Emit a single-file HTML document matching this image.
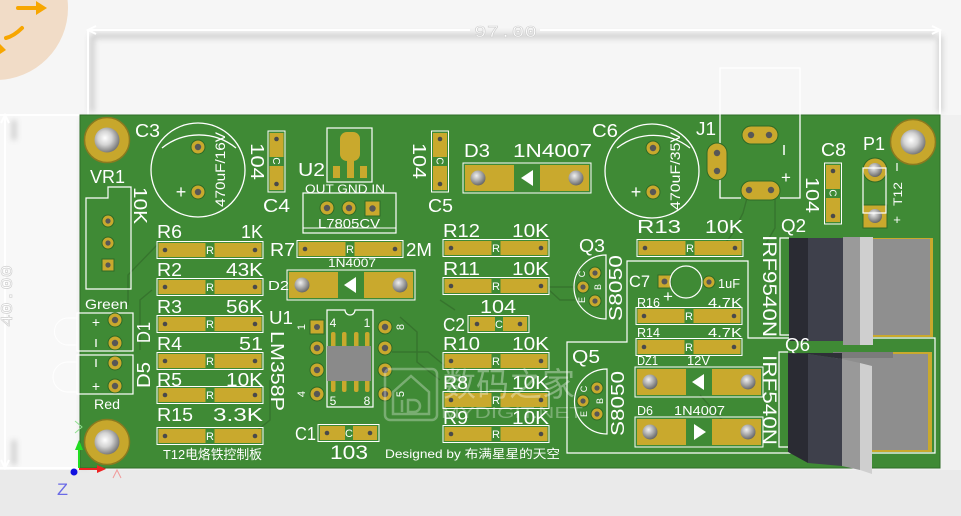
<!DOCTYPE html>
<html><head><meta charset="utf-8">
<style>
html,body{margin:0;padding:0;background:#f1f1f1;}
svg{display:block}
text{font-family:"Liberation Sans","Noto Sans CJK SC",sans-serif;fill:#fff}
.m{font-family:"Liberation Mono","Noto Sans CJK SC",monospace}
</style></head><body>
<svg width="961" height="516" viewBox="0 0 961 516" xmlns="http://www.w3.org/2000/svg">
<defs>
 <filter id="bl" x="-20%" y="-20%" width="140%" height="140%"><feGaussianBlur stdDeviation="3"/></filter>
 <radialGradient id="hole" cx="0.42" cy="0.42" r="0.62"><stop offset="0" stop-color="#ffffff"/><stop offset="0.45" stop-color="#d4d4d4"/><stop offset="1" stop-color="#707070"/></radialGradient>
 <radialGradient id="ball" cx="0.4" cy="0.35" r="0.7"><stop offset="0" stop-color="#f0f0f0"/><stop offset="0.5" stop-color="#a8a8a8"/><stop offset="1" stop-color="#5e5e5e"/></radialGradient>
 <g id="res">
  <rect x="0" y="-8.5" width="106" height="17" fill="none" stroke="#fff" stroke-width="1"/>
  <rect x="1.5" y="-7" width="47" height="14" fill="#c9a92d"/>
  <rect x="57.5" y="-7" width="47" height="14" fill="#c9a92d"/>
  <circle cx="8" cy="0" r="2.3" fill="#4a4a4a"/><circle cx="98" cy="0" r="2.3" fill="#4a4a4a"/>
 </g>
 <g id="capH">
  <rect x="0" y="-8.5" width="61" height="17" fill="none" stroke="#fff" stroke-width="1"/>
  <rect x="2" y="-7" width="25" height="14" fill="#c9a92d"/>
  <rect x="35" y="-7" width="24" height="14" fill="#c9a92d"/>
  <circle cx="9" cy="0" r="2.3" fill="#4a4a4a"/><circle cx="52" cy="0" r="2.3" fill="#4a4a4a"/>
 </g>
 <g id="capV">
  <rect x="-8.5" y="0" width="17" height="61" fill="none" stroke="#fff" stroke-width="1"/>
  <rect x="-7" y="2" width="14" height="24" fill="#c9a92d"/>
  <rect x="-7" y="35" width="14" height="24" fill="#c9a92d"/>
  <circle cx="0" cy="8" r="2.3" fill="#4a4a4a"/><circle cx="0" cy="53" r="2.3" fill="#4a4a4a"/>
 </g>
 <g id="dio">
  <rect x="0" y="-15" width="128" height="30" fill="none" stroke="#fff" stroke-width="1"/>
  <rect x="2" y="-13" width="49" height="26" fill="#c9a92d"/>
  <rect x="77" y="-13" width="49" height="26" fill="#c9a92d"/>
  <circle cx="15" cy="0" r="7.5" fill="url(#ball)"/><circle cx="113" cy="0" r="7.5" fill="url(#ball)"/>
 </g>
 <g id="pad"><circle r="7" fill="#c9a92d" stroke="#2e6a26" stroke-width="1"/><circle r="3.2" fill="#575757"/></g>
 <g id="spad"><circle r="6" fill="#c9a92d" stroke="#2e6a26" stroke-width="1"/><circle r="2.6" fill="#575757"/></g>
</defs>

<!-- background -->
<rect width="961" height="516" fill="#f0f0f0"/>
<rect x="0" y="0" width="961" height="115" fill="#f6f6f6"/>
<rect x="0" y="470" width="961" height="46" fill="#eaeaea"/>
<rect x="0" y="115" width="80" height="355" fill="#f8f8f8"/>
<g filter="url(#bl)" opacity="0.45" stroke="#9a9a9a" stroke-width="5" fill="none">
 <path d="M92,36 H936"/>
 <path d="M92,36 V112"/>
 <path d="M940,36 V112"/>
 <path d="M14,120 V140"/>
 <path d="M14,440 V465"/>
 <path d="M84,118 V468"/>
</g>
<!-- logo -->
<circle cx="-4" cy="8" r="72" fill="#f1dcc7"/>
<g stroke="#f7a600" stroke-width="4" fill="none" stroke-linecap="round">
 <path d="M18,8 H38"/>
 <path d="M22,28 Q14,36 6,38"/>
</g>
<polygon points="36,1 47,8 36,15" fill="#f7a600"/>
<polygon points="0,44 6,50 0,54" fill="#f7a600"/>

<!-- dimension lines -->
<g stroke="#ffffff" stroke-width="2" fill="none">
 <path d="M88,30 H470"/><path d="M540,30 H940"/>
 <path d="M88,30 V115"/><path d="M940,30 V115"/>
 <path d="M96,26 L88,30 L96,34"/><path d="M932,26 L940,30 L932,34"/>
 <path d="M5,115 V468"/><path d="M0,115 H80"/><path d="M0,468 H80"/>
 <path d="M1,123 L5,115 L9,123"/><path d="M1,460 L5,468 L9,460"/>
</g>
<text class="m" x="474" y="37" font-size="17" textLength="63" lengthAdjust="spacingAndGlyphs" stroke="#cfcfcf" stroke-width="0.6">97.00</text>
<text class="m" transform="translate(12,327) rotate(-90)" font-size="17" textLength="62" lengthAdjust="spacingAndGlyphs" stroke="#cfcfcf" stroke-width="0.6">40.00</text>

<!-- board -->
<rect x="80" y="115" width="860" height="353" fill="#3f8a35" stroke="#2f6d28" stroke-width="1"/>

<!-- traces -->
<g stroke="#356f2c" stroke-width="1.4" fill="none" opacity="0.8">
 <path d="M157,245 L128,275 V305"/>
 <path d="M152,290 L140,300 V350"/>
 <path d="M400,317 L417,332 V362 L440,380"/>
 <path d="M392,352 L428,352 L450,370"/>
 <path d="M549,287 H575"/>
 <path d="M549,290 L560,300 H575"/>
 <path d="M747,198 L743,213 L733,233 L720,250"/>
 <path d="M775,198 V228 L765,245"/>
 <path d="M700,395 L740,440"/>
 <path d="M440,300 L455,310"/>
 <path d="M245,440 L270,420 V380"/>
</g>

<!-- mounting holes -->
<circle cx="107" cy="140" r="22.5" fill="#c7a72c" stroke="#8a7a1f" stroke-width="1.5"/><circle cx="107" cy="140" r="12.5" fill="url(#hole)"/>
<circle cx="107" cy="442" r="22.5" fill="#c7a72c" stroke="#8a7a1f" stroke-width="1.5"/><circle cx="107" cy="442" r="12.5" fill="url(#hole)"/>
<circle cx="913" cy="142" r="22.5" fill="#c7a72c" stroke="#8a7a1f" stroke-width="1.5"/><circle cx="913" cy="142" r="12.5" fill="url(#hole)"/>

<!-- C3 -->
<text x="135" y="137" font-size="18" textLength="25" lengthAdjust="spacingAndGlyphs">C3</text>
<circle cx="198" cy="170" r="47" fill="none" stroke="#fff" stroke-width="1.3"/>
<path d="M162,148 A59,59 0 0 1 236,148" fill="none" stroke="#fff" stroke-width="1.3"/>
<use href="#pad" x="198" y="147"/><use href="#pad" x="198" y="192"/>
<text x="181" y="198" font-size="18" text-anchor="middle">+</text>
<text transform="translate(225,207) rotate(-90)" font-size="14" textLength="75" lengthAdjust="spacingAndGlyphs">470uF/16V</text>

<!-- VR1 -->
<text x="90" y="183" font-size="18" textLength="35" lengthAdjust="spacingAndGlyphs">VR1</text>
<text transform="translate(134,187) rotate(90)" font-size="18" textLength="37" lengthAdjust="spacingAndGlyphs">10K</text>
<path d="M86,198 H108 V187 H131 V289 H86 Z" fill="none" stroke="#fff" stroke-width="1.2"/>
<use href="#spad" x="108" y="221"/><use href="#spad" x="108" y="243"/>
<rect x="102" y="259" width="12" height="12" fill="#c9a92d" stroke="#2e6a26"/><circle cx="108" cy="265" r="2.6" fill="#575757"/>

<!-- C4 -->
<use href="#capV" x="276.5" y="131"/>
<text transform="translate(276.5,161) rotate(90)" font-size="10" text-anchor="middle" dy="3.5">C</text>
<text transform="translate(251,143) rotate(90)" font-size="18" textLength="37" lengthAdjust="spacingAndGlyphs">104</text>
<text x="263" y="212" font-size="18" textLength="27" lengthAdjust="spacingAndGlyphs">C4</text>

<!-- U2 -->
<text x="298" y="176" font-size="18" textLength="27" lengthAdjust="spacingAndGlyphs">U2</text>
<rect x="327" y="128" width="45" height="54" fill="none" stroke="#fff" stroke-width="1.2"/>
<rect x="340" y="132" width="20" height="29" rx="7" fill="#c9a92d"/>
<rect x="347" y="150" width="7" height="28" fill="#c9a92d"/>
<rect x="333" y="166" width="7" height="12" fill="#c9a92d"/>
<rect x="360" y="166" width="7" height="12" fill="#c9a92d"/>
<text x="305" y="193" font-size="12" textLength="80" lengthAdjust="spacingAndGlyphs">OUT GND IN</text>
<rect x="303" y="193" width="93" height="40" fill="none" stroke="#fff" stroke-width="1.2"/>
<path d="M303,228 H396" stroke="#fff" stroke-width="1"/>
<use href="#pad" x="327" y="208"/><use href="#pad" x="349" y="208"/>
<rect x="365" y="201" width="15" height="15" fill="#c9a92d" stroke="#2e6a26"/><circle cx="372.5" cy="208.5" r="3.2" fill="#575757"/>
<text x="318" y="228" font-size="13" textLength="62" lengthAdjust="spacingAndGlyphs">L7805CV</text>

<!-- C5 -->
<use href="#capV" x="440" y="131"/>
<text transform="translate(440,161) rotate(90)" font-size="10" text-anchor="middle" dy="3.5">C</text>
<text transform="translate(413,143) rotate(90)" font-size="18" textLength="36" lengthAdjust="spacingAndGlyphs">104</text>
<text x="428" y="212" font-size="18" textLength="25" lengthAdjust="spacingAndGlyphs">C5</text>

<!-- D3 -->
<text x="464" y="157" font-size="18" textLength="26" lengthAdjust="spacingAndGlyphs">D3</text>
<text x="513" y="157" font-size="18" textLength="79" lengthAdjust="spacingAndGlyphs">1N4007</text>
<use href="#dio" x="463" y="178"/>
<polygon points="521,178 533,170 533,186" fill="#fff"/>

<!-- C6 -->
<text x="592" y="137" font-size="18" textLength="26" lengthAdjust="spacingAndGlyphs">C6</text>
<circle cx="652" cy="171" r="47" fill="none" stroke="#fff" stroke-width="1.3"/>
<path d="M617,148 A59,59 0 0 1 690,148" fill="none" stroke="#fff" stroke-width="1.3"/>
<use href="#pad" x="653" y="148"/><use href="#pad" x="653" y="192"/>
<text x="636" y="198" font-size="18" text-anchor="middle">+</text>
<text transform="translate(680,210) rotate(-90)" font-size="14" textLength="78" lengthAdjust="spacingAndGlyphs">470uF/35V</text>

<!-- J1 -->
<text x="696" y="135" font-size="18" textLength="20" lengthAdjust="spacingAndGlyphs">J1</text>
<path d="M741,198 H720 V68 H800 V198 H780" fill="none" stroke="#fff" stroke-width="1.3"/>
<rect x="707" y="143" width="20" height="37" rx="10" fill="#c9a92d" stroke="#2e6a26"/>
<circle cx="717" cy="153" r="3.2" fill="#575757"/><circle cx="717" cy="171" r="3.2" fill="#575757"/>
<rect x="742" y="126" width="36" height="18" rx="9" fill="#c9a92d" stroke="#2e6a26"/>
<circle cx="751" cy="135" r="3.2" fill="#575757"/><circle cx="769" cy="135" r="3.2" fill="#575757"/>
<rect x="741" y="181" width="39" height="19" rx="9.5" fill="#c9a92d" stroke="#2e6a26"/>
<circle cx="749" cy="190" r="3.2" fill="#575757"/><circle cx="771" cy="190" r="3.2" fill="#575757"/>
<path d="M784,145 V155" stroke="#fff" stroke-width="1.5"/>
<text x="786" y="183" font-size="17" text-anchor="middle">+</text>

<!-- C8 -->
<text x="821" y="156" font-size="18" textLength="25" lengthAdjust="spacingAndGlyphs">C8</text>
<use href="#capV" x="833" y="163"/>
<text transform="translate(833,193) rotate(90)" font-size="10" text-anchor="middle" dy="3.5">C</text>
<text transform="translate(806,177) rotate(90)" font-size="18" textLength="36" lengthAdjust="spacingAndGlyphs">104</text>

<!-- P1 -->
<text x="863" y="150" font-size="18" textLength="22" lengthAdjust="spacingAndGlyphs">P1</text>
<circle cx="875" cy="170" r="12" fill="#c9a92d" stroke="#2e6a26"/><circle cx="875" cy="170" r="7" fill="url(#ball)"/>
<rect x="863" y="205" width="24" height="23" fill="#c9a92d" stroke="#2e6a26"/><circle cx="875" cy="216" r="7" fill="url(#ball)"/>
<rect x="863" y="168" width="23" height="45" fill="none" stroke="#fff" stroke-width="1.2"/>
<path d="M897,163 V171" stroke="#fff" stroke-width="1.2"/>
<text transform="translate(902,206) rotate(-90)" font-size="12" textLength="24" lengthAdjust="spacingAndGlyphs">T12</text>
<text x="897" y="224" font-size="13" text-anchor="middle">+</text>

<!-- left resistors -->
<use href="#res" x="157" y="250"/><text x="210" y="254" font-size="11" text-anchor="middle">R</text>
<text x="157" y="238" font-size="18" textLength="25" lengthAdjust="spacingAndGlyphs">R6</text>
<text x="241" y="238" font-size="18" textLength="22" lengthAdjust="spacingAndGlyphs">1K</text>
<use href="#res" x="157" y="287"/><text x="210" y="291" font-size="11" text-anchor="middle">R</text>
<text x="157" y="276" font-size="18" textLength="25" lengthAdjust="spacingAndGlyphs">R2</text>
<text x="226" y="276" font-size="18" textLength="37" lengthAdjust="spacingAndGlyphs">43K</text>
<use href="#res" x="157" y="324"/><text x="210" y="328" font-size="11" text-anchor="middle">R</text>
<text x="157" y="313" font-size="18" textLength="25" lengthAdjust="spacingAndGlyphs">R3</text>
<text x="226" y="313" font-size="18" textLength="37" lengthAdjust="spacingAndGlyphs">56K</text>
<use href="#res" x="157" y="361"/><text x="210" y="365" font-size="11" text-anchor="middle">R</text>
<text x="157" y="350" font-size="18" textLength="25" lengthAdjust="spacingAndGlyphs">R4</text>
<text x="239" y="350" font-size="18" textLength="24" lengthAdjust="spacingAndGlyphs">51</text>
<use href="#res" x="157" y="395"/><text x="210" y="399" font-size="11" text-anchor="middle">R</text>
<text x="157" y="386" font-size="18" textLength="25" lengthAdjust="spacingAndGlyphs">R5</text>
<text x="226" y="386" font-size="18" textLength="37" lengthAdjust="spacingAndGlyphs">10K</text>
<use href="#res" x="157" y="436"/><text x="210" y="440" font-size="11" text-anchor="middle">R</text>
<text x="157" y="421" font-size="18" textLength="36" lengthAdjust="spacingAndGlyphs">R15</text>
<text x="213" y="421" font-size="18" textLength="50" lengthAdjust="spacingAndGlyphs">3.3K</text>
<text x="163" y="459" font-size="13" textLength="99" lengthAdjust="spacingAndGlyphs">T12电烙铁控制板</text>

<!-- LEDs -->
<text x="85" y="309" font-size="14" textLength="43" lengthAdjust="spacingAndGlyphs">Green</text>
<path d="M77,318 H68 A13.5,13.5 0 0 0 68,345 H77" fill="none" stroke="#fff" stroke-width="1"/>
<path d="M77,362 H68 A15,15 0 0 0 68,392 H77" fill="none" stroke="#fff" stroke-width="1"/>
<rect x="77" y="313" width="56" height="38" fill="none" stroke="#fff" stroke-width="1.2"/>
<rect x="77" y="355" width="56" height="39" fill="none" stroke="#fff" stroke-width="1.2"/>
<text x="96" y="327" font-size="14" text-anchor="middle">+</text>
<path d="M96,339 V347" stroke="#fff" stroke-width="1.3"/>
<path d="M96,359 V367" stroke="#fff" stroke-width="1.3"/>
<text x="96" y="391" font-size="14" text-anchor="middle">+</text>
<use href="#pad" x="115" y="320"/><use href="#pad" x="115" y="343"/>
<use href="#pad" x="115" y="363"/><use href="#pad" x="115" y="386"/>
<text x="94" y="409" font-size="14" textLength="26" lengthAdjust="spacingAndGlyphs">Red</text>
<text transform="translate(150,343) rotate(-90)" font-size="18" textLength="21" lengthAdjust="spacingAndGlyphs">D1</text>
<text transform="translate(150,388) rotate(-90)" font-size="18" textLength="26" lengthAdjust="spacingAndGlyphs">D5</text>

<!-- R7 / D2 -->
<text x="270" y="256" font-size="18" textLength="25" lengthAdjust="spacingAndGlyphs">R7</text>
<use href="#res" x="297" y="249"/><text x="350" y="253" font-size="11" text-anchor="middle">R</text>
<text x="406" y="256" font-size="18" textLength="26" lengthAdjust="spacingAndGlyphs">2M</text>
<text x="328" y="267" font-size="12" textLength="48" lengthAdjust="spacingAndGlyphs">1N4007</text>
<text x="268" y="290" font-size="13" textLength="21" lengthAdjust="spacingAndGlyphs">D2</text>
<use href="#dio" x="287" y="285"/>
<polygon points="344,285 356,277 356,293" fill="#fff"/>

<!-- U1 -->
<text x="269" y="324" font-size="18" textLength="24" lengthAdjust="spacingAndGlyphs">U1</text>
<text transform="translate(271,331) rotate(90)" font-size="18" textLength="80" lengthAdjust="spacingAndGlyphs">LM358P</text>
<path d="M327,310 H345 A5,5 0 0 0 355,310 H373 V407 H327 Z" fill="none" stroke="#fff" stroke-width="1.2"/>
<g fill="#c9a92d">
 <rect x="331" y="332" width="4.5" height="60" rx="2"/>
 <rect x="342" y="332" width="4.5" height="60" rx="2"/>
 <rect x="354" y="332" width="4.5" height="60" rx="2"/>
 <rect x="365" y="332" width="4.5" height="60" rx="2"/>
</g>
<rect x="327" y="346" width="44" height="35" fill="#8a8a8a"/>
<text x="333" y="327" font-size="12" text-anchor="middle">4</text>
<text x="367" y="327" font-size="12" text-anchor="middle">1</text>
<text x="333" y="405" font-size="12" text-anchor="middle">5</text>
<text x="367" y="405" font-size="12" text-anchor="middle">8</text>
<rect x="310" y="320" width="14" height="14" fill="#c9a92d" stroke="#2e6a26"/><circle cx="317" cy="327" r="3" fill="#575757"/>
<use href="#pad" x="317" y="348"/><use href="#pad" x="317" y="370"/><use href="#pad" x="317" y="394"/>
<use href="#pad" x="385" y="327"/><use href="#pad" x="385" y="348"/><use href="#pad" x="385" y="370"/><use href="#pad" x="385" y="394"/>
<text transform="translate(305,327) rotate(-90)" font-size="11" text-anchor="middle">1</text>
<text transform="translate(305,394) rotate(-90)" font-size="11" text-anchor="middle">4</text>
<text transform="translate(404,327) rotate(-90)" font-size="11" text-anchor="middle">8</text>
<text transform="translate(404,394) rotate(-90)" font-size="11" text-anchor="middle">5</text>

<!-- C1 -->
<text x="295" y="440" font-size="18" textLength="21" lengthAdjust="spacingAndGlyphs">C1</text>
<use href="#capH" x="318" y="433"/><text x="349" y="437" font-size="11" text-anchor="middle">C</text>
<text x="330" y="459" font-size="19" textLength="38" lengthAdjust="spacingAndGlyphs">103</text>
<text x="385" y="458" font-size="12" textLength="175" lengthAdjust="spacingAndGlyphs">Designed by 布满星星的天空</text>

<!-- middle column -->
<use href="#res" x="443" y="248"/><text x="496" y="252" font-size="11" text-anchor="middle">R</text>
<text x="443" y="237" font-size="18" textLength="37" lengthAdjust="spacingAndGlyphs">R12</text>
<text x="512" y="237" font-size="18" textLength="37" lengthAdjust="spacingAndGlyphs">10K</text>
<use href="#res" x="443" y="286"/><text x="496" y="290" font-size="11" text-anchor="middle">R</text>
<text x="443" y="275" font-size="18" textLength="37" lengthAdjust="spacingAndGlyphs">R11</text>
<text x="512" y="275" font-size="18" textLength="37" lengthAdjust="spacingAndGlyphs">10K</text>
<text x="480" y="313" font-size="18" textLength="36" lengthAdjust="spacingAndGlyphs">104</text>
<text x="443" y="331" font-size="18" textLength="22" lengthAdjust="spacingAndGlyphs">C2</text>
<use href="#capH" x="468" y="324"/><text x="499" y="328" font-size="11" text-anchor="middle">C</text>
<use href="#res" x="443" y="361"/><text x="496" y="365" font-size="11" text-anchor="middle">R</text>
<text x="443" y="350" font-size="18" textLength="37" lengthAdjust="spacingAndGlyphs">R10</text>
<text x="512" y="350" font-size="18" textLength="37" lengthAdjust="spacingAndGlyphs">10K</text>
<use href="#res" x="443" y="400"/><text x="496" y="404" font-size="11" text-anchor="middle">R</text>
<text x="443" y="389" font-size="18" textLength="25" lengthAdjust="spacingAndGlyphs">R8</text>
<text x="512" y="389" font-size="18" textLength="37" lengthAdjust="spacingAndGlyphs">10K</text>
<use href="#res" x="443" y="434"/><text x="496" y="438" font-size="11" text-anchor="middle">R</text>
<text x="443" y="424" font-size="18" textLength="25" lengthAdjust="spacingAndGlyphs">R9</text>
<text x="512" y="424" font-size="18" textLength="37" lengthAdjust="spacingAndGlyphs">10K</text>

<!-- Q3 -->
<text x="579" y="252" font-size="18" textLength="26" lengthAdjust="spacingAndGlyphs">Q3</text>
<path d="M606,255 A32,32 0 0 0 606,319 Z" fill="none" stroke="#fff" stroke-width="1.2"/>
<use href="#spad" x="595" y="273"/><use href="#spad" x="583" y="287"/><use href="#spad" x="595" y="301"/>
<text transform="translate(585,274) rotate(-90)" font-size="9" text-anchor="middle">C</text>
<text transform="translate(601,287) rotate(-90)" font-size="9" text-anchor="middle">B</text>
<text transform="translate(585,300) rotate(-90)" font-size="9" text-anchor="middle">E</text>
<text transform="translate(622,321) rotate(-90)" font-size="18" textLength="66" lengthAdjust="spacingAndGlyphs">S8050</text>

<!-- R13 -->
<text x="637" y="233" font-size="18" textLength="44" lengthAdjust="spacingAndGlyphs">R13</text>
<text x="705" y="233" font-size="18" textLength="38" lengthAdjust="spacingAndGlyphs">10K</text>
<use href="#res" x="637" y="248"/><text x="690" y="252" font-size="11" text-anchor="middle">R</text>

<!-- silk boxes -->
<g fill="none" stroke="#fff" stroke-width="1.2">
 <path d="M567,342 H627 V261 H748 V338 H935 V453 H567 Z"/>
 <path d="M789,238 H780 V335 H789"/>
 <path d="M788,352 H779 V447 H788"/>
</g>

<!-- C7 -->
<text x="629" y="287" font-size="17" textLength="21" lengthAdjust="spacingAndGlyphs">C7</text>
<rect x="658" y="275" width="13" height="13" fill="#c9a92d" stroke="#2e6a26"/><circle cx="664.5" cy="281.5" r="3" fill="#575757"/>
<circle cx="686" cy="282" r="16" fill="none" stroke="#fff" stroke-width="1.2"/>
<use href="#spad" x="709" y="282"/>
<text x="718" y="288" font-size="13" textLength="22" lengthAdjust="spacingAndGlyphs">1uF</text>
<text x="668" y="302" font-size="17" text-anchor="middle">+</text>

<!-- R16 R14 -->
<text x="637" y="307" font-size="13" textLength="23" lengthAdjust="spacingAndGlyphs">R16</text>
<text x="708" y="307" font-size="13" textLength="34" lengthAdjust="spacingAndGlyphs">4.7K</text>
<use href="#res" x="636" y="316"/><text x="689" y="320" font-size="11" text-anchor="middle">R</text>
<text x="637" y="337" font-size="13" textLength="23" lengthAdjust="spacingAndGlyphs">R14</text>
<text x="708" y="337" font-size="13" textLength="34" lengthAdjust="spacingAndGlyphs">4.7K</text>
<use href="#res" x="636" y="347"/><text x="689" y="351" font-size="11" text-anchor="middle">R</text>

<!-- DZ1 / D6 -->
<text x="637" y="365" font-size="13" textLength="21" lengthAdjust="spacingAndGlyphs">DZ1</text>
<text x="687" y="365" font-size="13" textLength="23" lengthAdjust="spacingAndGlyphs">12V</text>
<use href="#dio" x="635" y="382"/>
<polygon points="692,382 704,374 704,390" fill="#fff"/>
<text x="637" y="415" font-size="13" textLength="16" lengthAdjust="spacingAndGlyphs">D6</text>
<text x="674" y="415" font-size="13" textLength="51" lengthAdjust="spacingAndGlyphs">1N4007</text>
<use href="#dio" x="635" y="432"/>
<polygon points="694,424 694,440 706,432" fill="#fff"/>

<!-- Q5 -->
<text x="572" y="363" font-size="18" textLength="28" lengthAdjust="spacingAndGlyphs">Q5</text>
<path d="M607,369 A32,32 0 0 0 607,434 Z" fill="none" stroke="#fff" stroke-width="1.2"/>
<use href="#spad" x="597" y="388"/><use href="#spad" x="583" y="401"/><use href="#spad" x="597" y="414"/>
<text transform="translate(587,389) rotate(-90)" font-size="9" text-anchor="middle">C</text>
<text transform="translate(603,401) rotate(-90)" font-size="9" text-anchor="middle">B</text>
<text transform="translate(587,414) rotate(-90)" font-size="9" text-anchor="middle">E</text>
<text transform="translate(624,436) rotate(-90)" font-size="18" textLength="65" lengthAdjust="spacingAndGlyphs">S8050</text>

<!-- Q2 -->
<text x="781" y="232" font-size="18" textLength="25" lengthAdjust="spacingAndGlyphs">Q2</text>
<text transform="translate(763,235) rotate(90)" font-size="19" textLength="102" lengthAdjust="spacingAndGlyphs">IRF9540N</text>
<rect x="873" y="238" width="60" height="99" fill="#c9a92d"/>
<rect x="873" y="239" width="57" height="96" fill="#8f8f8f"/>
<rect x="843" y="237" width="17" height="108" fill="#9a9a9a"/>
<rect x="860" y="237" width="13" height="108" fill="#cfcfcf"/>
<rect x="808" y="238" width="35" height="103" fill="#3e404b"/>
<rect x="789" y="238" width="19" height="103" fill="#2a2b33"/>

<!-- Q6 -->
<text x="785" y="351" font-size="18" textLength="25" lengthAdjust="spacingAndGlyphs">Q6</text>
<text transform="translate(763,355) rotate(90)" font-size="19" textLength="90" lengthAdjust="spacingAndGlyphs">IRF540N</text>
<rect x="848" y="352" width="84" height="100" fill="#c9a92d"/>
<rect x="833" y="354" width="95" height="96" fill="#8e8e8e"/>
<rect x="833" y="352" width="60" height="6" fill="#7b7b7b"/>
<polygon points="788,353 842,353 842,359 808,354" fill="#2e2f37"/>
<polygon points="808,354 842,359 842,466 808,463" fill="#3e404b"/>
<polygon points="788,353 808,354 808,463 788,452" fill="#2a2b33"/>
<polygon points="842,359 860,363 860,470 842,466" fill="#999999"/>
<polygon points="860,363 872,366 872,474 860,470" fill="#cfcfcf"/>

<!-- watermark -->
<g opacity="0.3" fill="none" stroke="#fff" stroke-width="2.5">
 <rect x="385" y="369" width="52" height="51" rx="5"/>
 <path d="M393,392 L411,376 L429,392 V414 H393 Z"/>
 <path d="M402,400 V412 M408,400 H414 A6,6 0 0 1 414,412 H408 Z"/>
</g>
<text x="443" y="396" font-size="33" textLength="132" lengthAdjust="spacingAndGlyphs" opacity="0.35">数码之家</text>
<text x="441" y="418" font-size="16" textLength="142" lengthAdjust="spacingAndGlyphs" opacity="0.3">MYDIGIT.NET</text>

<!-- axes -->
<path d="M79,468 V447" stroke="#22dd22" stroke-width="2"/>
<polygon points="79,440 75,450 83,450" fill="#22dd22"/>
<path d="M79,469 H99" stroke="#ee2222" stroke-width="2"/>
<polygon points="106,469 97,465 97,473" fill="#ee2222"/>
<circle cx="74" cy="472" r="3.5" fill="#1010e0"/>
<text x="57" y="495" font-size="17" style="fill:#6a6ae6" textLength="11" lengthAdjust="spacingAndGlyphs">Z</text>
<path d="M113,478 L117,470 L121,478" fill="none" stroke="#f29a9a" stroke-width="1"/>
<path d="M75,421 L82,427 L75,433" fill="none" stroke="#8fe08f" stroke-width="1"/>
</svg>
</body></html>
